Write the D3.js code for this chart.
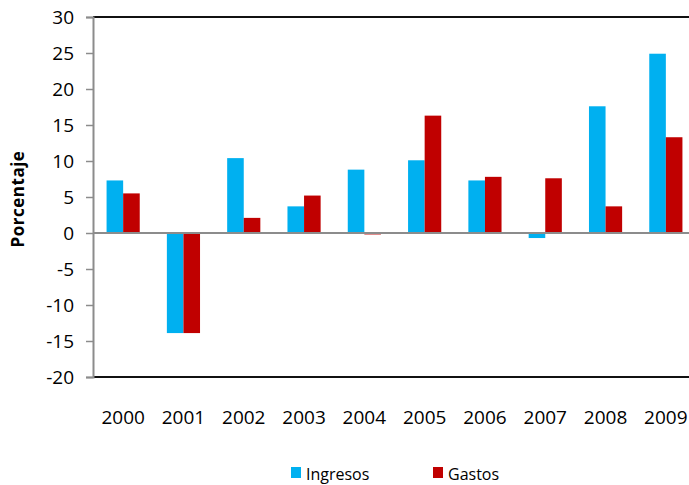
<!DOCTYPE html>
<html>
<head>
<meta charset="utf-8">
<script src="https://cdn.jsdelivr.net/npm/d3@7"></script>
<style>
  body { margin: 0; background: #fff; }
  svg { font-family: "Open Sans", "Noto Sans", sans-serif; }
</style>
</head>
<body>
<div id="chart"></div>
<script>
// Data
var years = ["2000", "2001", "2002", "2003", "2004", "2005", "2006", "2007", "2008", "2009"];
var ingresos = [7.3, -13.9, 10.4, 3.7, 8.8, 10.1, 7.3, -0.7, 17.6, 24.9];
var gastos = [5.5, -13.9, 2.1, 5.2, -0.2, 16.3, 7.8, 7.6, 3.7, 13.3];
var seriesNames = ["Ingresos", "Gastos"];
var yTicks = [-20, -15, -10, -5, 0, 5, 10, 15, 20, 25, 30];

var color1 = "#00B0F0";
var color2 = "#C00000";

var width = 689, height = 485;
var margin = { top: 17, left: 93, bottom: 108, right: -7 };
var plotRight = width - margin.right;   // plot runs a little past the window edge
var plotBottom = height - margin.bottom;

var svg = d3.select("#chart").append("svg")
    .attr("width", width)
    .attr("height", height);

var x = d3.scaleBand()
    .domain(years)
    .range([margin.left, plotRight])
    .paddingInner(0.45)
    .paddingOuter(0.225);

var x1 = d3.scaleBand()
    .domain(seriesNames)
    .range([0, x.bandwidth()]);

var y = d3.scaleLinear()
    .domain([-20, 30])
    .range([plotBottom, margin.top]);

var table = years.map(function (d, i) {
    return { year: d, values: [ingresos[i], gastos[i]] };
});

// bars
var groups = svg.append("g").selectAll("g")
    .data(table)
    .enter()
    .append("g")
    .attr("transform", function (d) { return "translate(" + x(d.year) + ",0)"; });

groups.selectAll("rect")
    .data(function (d) { return d.values.map(function (v, j) { return { key: seriesNames[j], value: v }; }); })
    .enter()
    .append("rect")
    .attr("x", function (d) { return x1(d.key); })
    .attr("width", x1.bandwidth())
    .attr("y", function (d) { return y(Math.max(0, d.value)); })
    .attr("height", function (d) { return Math.abs(y(d.value) - y(0)); })
    .style("fill", function (d) { return d.key == "Ingresos" ? color1 : color2; });

// top and bottom border lines
svg.append("line")
    .attr("x1", margin.left).attr("x2", width)
    .attr("y1", y(30)).attr("y2", y(30))
    .attr("stroke", "#111").attr("stroke-width", 2);
svg.append("line")
    .attr("x1", margin.left).attr("x2", width)
    .attr("y1", y(-20)).attr("y2", y(-20))
    .attr("stroke", "#111").attr("stroke-width", 2);

// zero line
svg.append("line")
    .attr("x1", margin.left).attr("x2", width)
    .attr("y1", y(0)).attr("y2", y(0))
    .attr("stroke", "#8c8c8c").attr("stroke-width", 2);

// y axis
var yAxis = svg.append("g")
    .attr("transform", "translate(" + margin.left + ",0)")
    .call(d3.axisLeft(y).tickValues(yTicks).tickSize(7).tickPadding(12)
        .tickFormat(function (d) { return String(d); }));
yAxis.select(".domain").attr("stroke", "#8c8c8c").attr("stroke-width", 2);
yAxis.selectAll(".tick line").attr("stroke", "#8c8c8c").attr("stroke-width", 1.5);
yAxis.selectAll(".tick text")
    .style("font-size", "19px")
    .style("fill", "#000")
    .style("font-family", "'Open Sans', sans-serif");

// x labels
svg.append("g").selectAll("text")
    .data(years)
    .enter()
    .append("text")
    .attr("x", function (d) { return x(d) + x.bandwidth() / 2; })
    .attr("y", 424)
    .attr("text-anchor", "middle")
    .style("font-size", "19px")
    .text(function (d) { return d; });

// y title
svg.append("text")
    .attr("transform", "translate(24,199) rotate(-90)")
    .attr("text-anchor", "middle")
    .style("font-size", "17px")
    .style("font-weight", "bold")
    .style("letter-spacing", "0.5px")
    .text("Porcentaje");

// legend
var legX = [291, 433];
var leg = svg.append("g").selectAll("g")
    .data(seriesNames)
    .enter()
    .append("g")
    .attr("transform", function (d, i) { return "translate(" + legX[i] + ",467)"; });
leg.append("rect")
    .attr("width", 10).attr("height", 11)
    .style("fill", function (d, i) { return i == 0 ? color1 : color2; });
leg.append("text")
    .attr("x", 15).attr("y", 13)
    .style("font-size", "16px")
    .text(function (d) { return d; });
</script>
</body>
</html>
